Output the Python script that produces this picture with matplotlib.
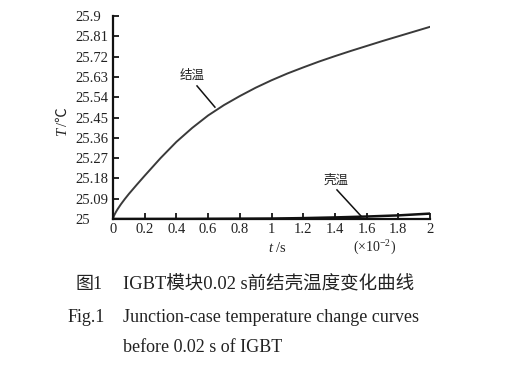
import numpy as np
import matplotlib
matplotlib.use('Agg')
import matplotlib.pyplot as plt

plt.rcParams['font.family'] = ['Liberation Serif', 'Noto Sans CJK SC', 'DejaVu Sans']
plt.rcParams['mathtext.fontset'] = 'custom'
plt.rcParams['mathtext.rm'] = 'Liberation Serif'
plt.rcParams['mathtext.it'] = 'Liberation Serif:italic'

# junction temperature (t in 10^-2 s)
t_junction = [0, 0.005, 0.01, 0.02, 0.03, 0.05, 0.075, 0.1, 0.15, 0.2, 0.3,
              0.4, 0.5, 0.6, 0.7, 0.8, 0.9, 1.0, 1.1, 1.2, 1.3, 1.4, 1.5,
              1.6, 1.7, 1.8, 1.9, 2.0]
T_junction = [25.0, 25.012, 25.02, 25.033, 25.0445, 25.0655, 25.089, 25.111,
              25.152, 25.192, 25.27, 25.342, 25.404, 25.459, 25.505, 25.545,
              25.582, 25.615, 25.645, 25.672, 25.698, 25.722, 25.745, 25.767,
              25.789, 25.81, 25.831, 25.852]

# case temperature
t_case = [0, 0.5, 1.0, 1.2, 1.4, 1.6, 1.8, 2.0]
T_case = [25.0, 25.0005, 25.002, 25.004, 25.007, 25.011, 25.016, 25.024]

xticks = [0, 0.2, 0.4, 0.6, 0.8, 1, 1.2, 1.4, 1.6, 1.8, 2]
xlabels = ['0', '0.2', '0.4', '0.6', '0.8', '1', '1.2', '1.4', '1.6', '1.8', '2']
yticks = [25, 25.09, 25.18, 25.27, 25.36, 25.45, 25.54, 25.63, 25.72, 25.81, 25.9]
ylabels = ['25', '25.09', '25.18', '25.27', '25.36', '25.45', '25.54', '25.63',
           '25.72', '25.81', '25.9']

fig = plt.figure(figsize=(5.2, 3.67), dpi=100)
ax = fig.add_axes([113/520, 1-219/367, (430-113)/520, (219-16)/367])

ax.plot(t_junction, T_junction, color='#3a3a3a', lw=1.4)
ax.plot(t_case, T_case, color='#111111', lw=1.8)

ax.set_xlim(0, 2)
ax.set_ylim(25, 25.9)
for s in ['top', 'right']:
    ax.spines[s].set_visible(False)
for s in ['left', 'bottom']:
    ax.spines[s].set_linewidth(1.6)
    ax.spines[s].set_color('#111111')

ax.set_xticks(xticks)
ax.set_xticklabels(xlabels, fontsize=10.5, color='#222222')
ax.set_yticks(yticks)
ax.set_yticklabels(ylabels, fontsize=10.5, color='#222222', ha='left')
ax.tick_params(axis='x', direction='in', length=4, width=1.2, pad=3)
ax.tick_params(axis='y', direction='in', length=4, width=1.2, pad=27)

# annotations
ax.text(0.498, 25.638, '结温', fontsize=9, ha='center', va='center',
        family=['Noto Sans CJK SC'], color='#222222')
ax.plot([0.53, 0.643], [25.59, 25.496], color='#111111', lw=1.1)
ax.text(1.407, 25.173, '壳温', fontsize=9, ha='center', va='center',
        family=['Noto Sans CJK SC'], color='#222222')
ax.plot([1.413, 1.565], [25.129, 25.013], color='#111111', lw=1.1)

# axis labels
fig.text(63/520, 1-131.5/367, 'T', rotation=90, ha='center', va='center',
         fontsize=10.5, style='italic', color='#222222')
fig.text(63/520, 1-117/367, '/℃', rotation=90, ha='center', va='center',
         fontsize=10.5, color='#222222',
         family=['Liberation Serif', 'Noto Sans CJK SC'])
fig.text(277/520, 1-248/367, r'$t$ /s', ha='center', va='center',
         fontsize=10.5, color='#222222')
fig.text(375/520, 1-248/367, r'(×10$^{-2}$)', ha='center', va='center',
         fontsize=10, color='#222222')

# caption
cap = '#222222'
fig.text(89/520, 1-285/367, '图1', ha='center', va='center', fontsize=13,
         color=cap, family=['Liberation Serif', 'Noto Sans CJK SC'])
fig.text(123/520, 1-285/367, 'IGBT模块0.02 s前结壳温度变化曲线', ha='left',
         va='center', fontsize=13.3, color=cap,
         family=['Liberation Serif', 'Noto Sans CJK SC'])
fig.text(86/520, 1-317/367, 'Fig.1', ha='center', va='center', fontsize=13,
         color=cap)
fig.text(123/520, 1-317/367, 'Junction-case temperature change curves',
         ha='left', va='center', fontsize=13, color=cap)
fig.text(123/520, 1-347/367, 'before 0.02 s of IGBT', ha='left', va='center',
         fontsize=13, color=cap)

fig.savefig('out.png', dpi=100, facecolor='white')
